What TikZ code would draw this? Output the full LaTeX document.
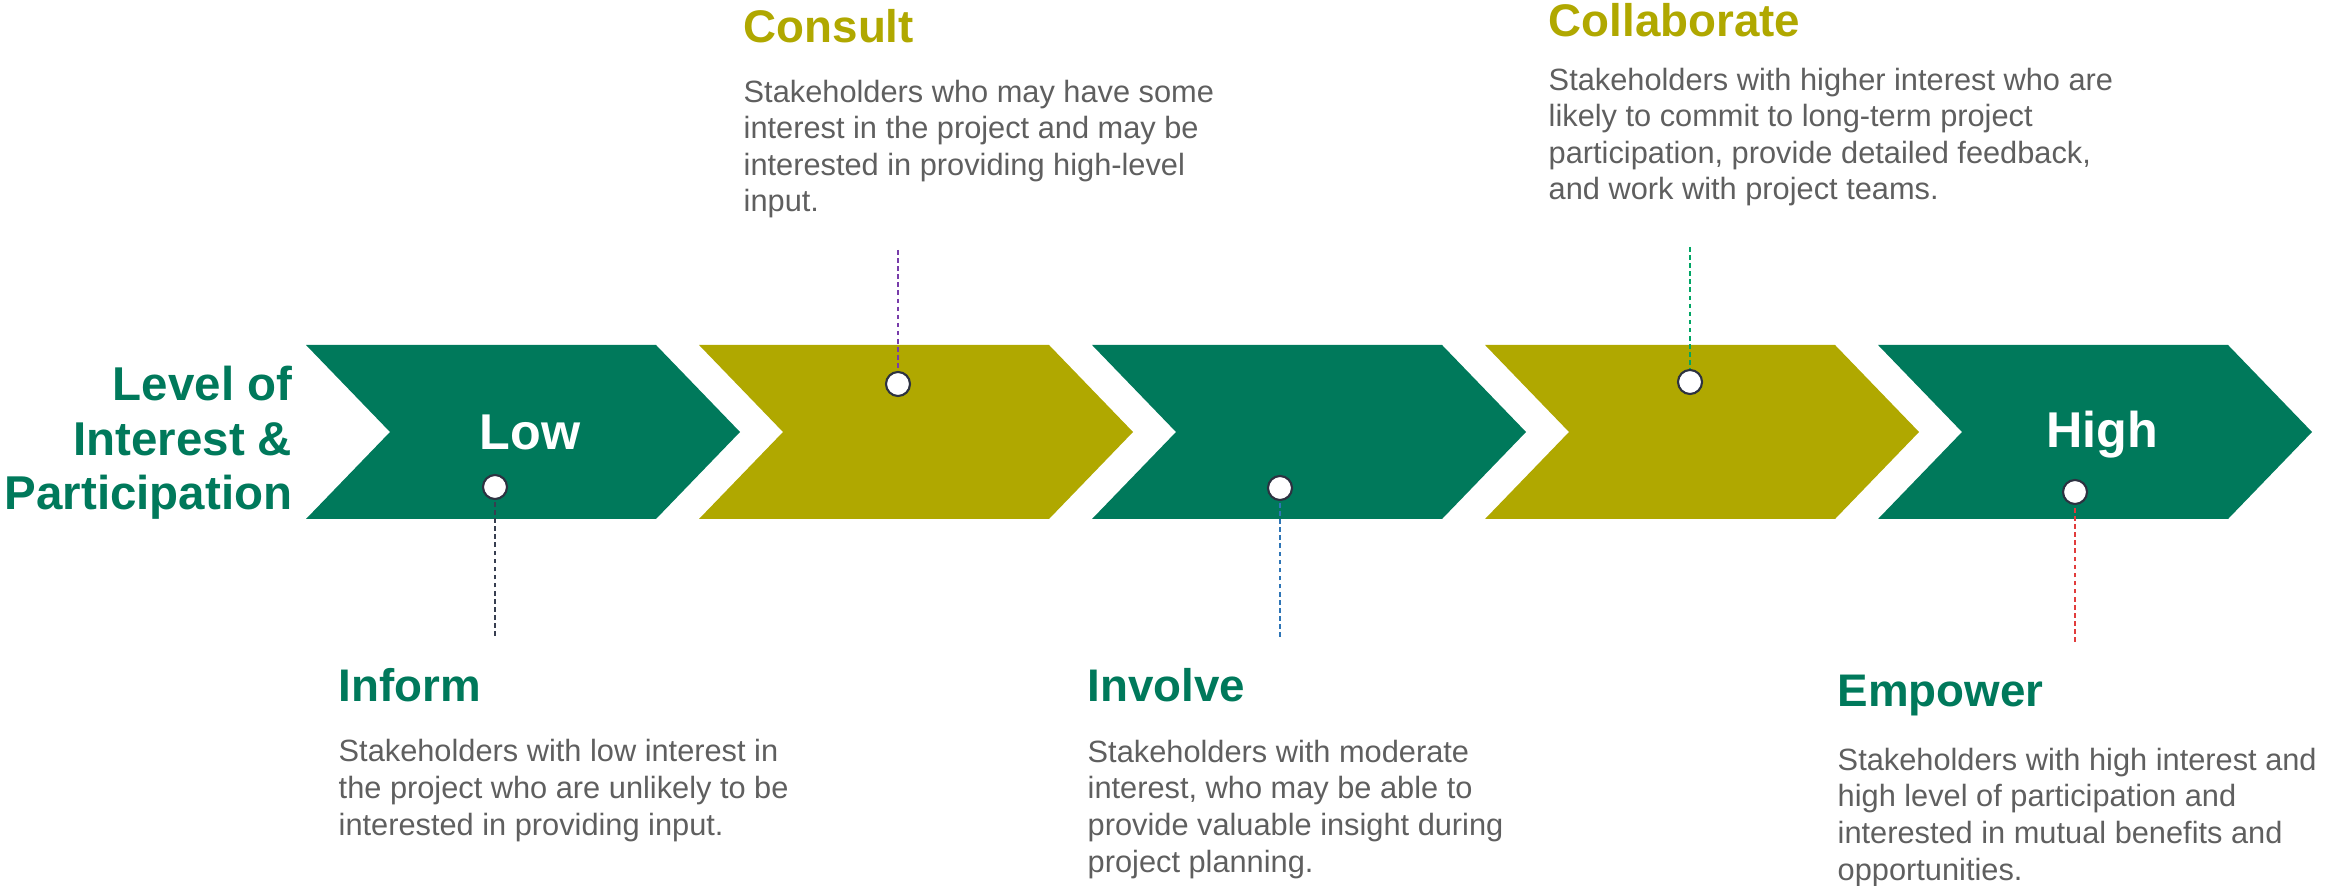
\documentclass[tikz,border=0pt]{standalone}
\usepackage{fontspec}
\setmainfont{Liberation Sans}
\definecolor{stage_green}{RGB}{0,121,91}
\definecolor{stage_olive}{RGB}{176,168,0}
\definecolor{desc_gray}{RGB}{95,95,95}
\definecolor{marker_ring}{RGB}{45,50,65}
\definecolor{lead_inform}{RGB}{55,62,80}
\definecolor{lead_consult}{RGB}{120,60,170}
\definecolor{lead_involve}{RGB}{46,117,182}
\definecolor{lead_collab}{RGB}{0,165,100}
\definecolor{lead_empower}{RGB}{225,60,60}

\begin{document}
\begin{tikzpicture}[
    x=0.01cm, y=-0.01cm,
    heading/.style={font=\fontsize{13}{15}\selectfont\bfseries,anchor=base west,inner sep=0pt},
    % multi-line nodes: base anchor sits on the last line
    desc/.style={font=\fontsize{8.75}{10.4}\selectfont,text=desc_gray,align=left,anchor=base west,inner sep=0pt},
    marker/.style={circle,draw=marker_ring,fill=white,line width=0.6pt,minimum size=0.24cm,inner sep=0pt},
    leader/.style={line width=0.45pt,dash pattern=on 1.3pt off 1pt}
]
    % picture is 2346 x 886 units, y grows downwards
    \useasboundingbox (0,0) rectangle (2346,886);

    \def\xstart{306}
    \def\pitch{393}
    \def\ytop{345}
    \def\ybot{519}
    \def\ymid{432}
    \def\tipd{84}
    \def\body{350}

    % chevrons
    \foreach \i/\col in {0/stage_green, 1/stage_olive, 2/stage_green, 3/stage_olive, 4/stage_green}{
        \fill[\col] (\xstart+\i*\pitch,\ytop) -- ++(\body,0) -- ++(\tipd,\ymid-\ytop)
            -- ++(-\tipd,\ybot-\ymid) -- ++(-\body,0) -- ++(\tipd,\ymid-\ybot) -- cycle;
    }

    \node[font=\fontsize{13.5}{15.6}\selectfont\bfseries,text=stage_green,align=right,anchor=base east,inner sep=0pt]
        (level) at (293,510) {Level of\\Interest \&\\Participation};
    \node[font=\fontsize{14.3}{16}\selectfont\bfseries,text=white,anchor=base,inner sep=0pt] (low) at (530,450) {Low};
    \node[font=\fontsize{14.3}{16}\selectfont\bfseries,text=white,anchor=base,inner sep=0pt] (high) at (2102,448) {High};

    % markers and dashed leaders
    \foreach \name/\dx/\dy/\ey/\col in {
        inform/495/487/636/lead_inform,
        consult/898/384/250/lead_consult,
        involve/1280/488/637/lead_involve,
        collab/1690/382/247/lead_collab,
        empower/2075/492/642/lead_empower}{
        \node[marker] (dot\name) at (\dx,\dy) {};
        \coordinate (end\name) at (\dx,\ey);
        \draw[leader,draw=\col] (end\name) -- (dot\name);
    }

    % upper texts
    \node[heading,text=stage_olive] (consult) at (743,43) {Consult};
    \node[desc] (consulttxt) at (743,212)
        {Stakeholders who may have some\\interest in the project and may be\\interested in providing high-level\\input.};
    \node[heading,text=stage_olive] (collab) at (1548,37) {Collaborate};
    \node[desc] (collabtxt) at (1548,200)
        {Stakeholders with higher interest who are\\likely to commit to long-term project\\participation, provide detailed feedback,\\and work with project teams.};

    % lower texts
    \node[heading,text=stage_green] (inform) at (338,702) {Inform};
    \node[desc] (informtxt) at (338,835)
        {Stakeholders with low interest in\\the project who are unlikely to be\\interested in providing input.};
    \node[heading,text=stage_green] (involve) at (1087,702) {Involve};
    \node[desc] (involvetxt) at (1087,872)
        {Stakeholders with moderate\\interest, who may be able to\\provide valuable insight during\\project planning.};
    \node[heading,text=stage_green] (empower) at (1837,707) {Empower};
    \node[desc] (empowertxt) at (1837,880)
        {Stakeholders with high interest and\\high level of participation and\\interested in mutual benefits and\\opportunities.};

\end{tikzpicture}
\end{document}
